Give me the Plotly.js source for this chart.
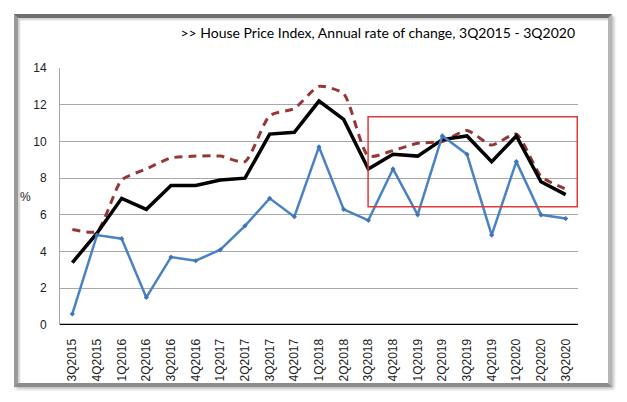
<!DOCTYPE html>
<html>
<head>
<meta charset="utf-8">
<script src="https://cdn.plot.ly/plotly-3.0.1.min.js"></script>
<style>
  html, body { margin: 0; padding: 0; background: #ffffff; }
  #wrap { position: relative; width: 627px; height: 402px; overflow: hidden; background: #fff; }
  #frame {
    position: absolute; left: 14px; top: 14px; width: 590px; height: 365px;
    border-top: 4px solid #6e6e6e; border-left: 4px solid #9a9a9a;
    border-right: 4px solid #b5b5b5; border-bottom: 4px solid #8c8c8c;
    box-shadow: inset 2px 2px 2px #d0d0d0, 2px 2px 3px #bdbdbd;
    background: #fff;
  }
  #chart { position: absolute; left: 0; top: 0; width: 627px; height: 402px; }
</style>
</head>
<body>
<div id="wrap">
  <div id="frame"></div>
  <div id="chart"></div>
</div>
<script>
const categories = ["3Q2015","4Q2015","1Q2016","2Q2016","3Q2016","4Q2016","1Q2017","2Q2017","3Q2017","4Q2017","1Q2018","2Q2018","3Q2018","4Q2018","1Q2019","2Q2019","3Q2019","4Q2019","1Q2020","2Q2020","3Q2020"];
const blackSeries = [3.4, 5.0, 6.9, 6.3, 7.6, 7.6, 7.9, 8.0, 10.4, 10.5, 12.2, 11.2, 8.5, 9.3, 9.2, 10.1, 10.3, 8.9, 10.3, 7.8, 7.1];
const blueSeries  = [0.6, 4.9, 4.7, 1.5, 3.7, 3.5, 4.1, 5.4, 6.9, 5.9, 9.7, 6.3, 5.7, 8.5, 6.0, 10.3, 9.3, 4.9, 8.9, 6.0, 5.8];
const dashSeries  = [5.2, 5.1, 7.9, 8.5, 9.1, 9.2, 9.2, 8.9, 11.4, 11.8, 13.0, 12.6, 9.2, 9.5, 9.9, 10.0, 10.6, 9.8, 10.4, 8.1, 7.4];
const yTicks = [0, 2, 4, 6, 8, 10, 12, 14];
const titleText = ">> House Price Index, Annual rate of change, 3Q2015 - 3Q2020";
const yLabel = "%";
const highlightFrom = "3Q2018";

const traces = [
  { x: categories, y: dashSeries, type: "scatter", mode: "lines",
    line: { color: "#953735", width: 3, dash: "8px,6px", shape: "spline", smoothing: 0.6 }, hoverinfo: "skip" },
  { x: categories, y: blackSeries, type: "scatter", mode: "lines",
    line: { color: "#000000", width: 3.5 }, hoverinfo: "skip" },
  { x: categories, y: blueSeries, type: "scatter", mode: "lines+markers",
    line: { color: "#4a82c4", width: 2.5 },
    marker: { symbol: "diamond", size: 4, color: "#3f75b5" }, hoverinfo: "skip" }
];

const startIdx = categories.indexOf(highlightFrom);

const layout = {
  width: 627, height: 402,
  paper_bgcolor: "rgba(0,0,0,0)", plot_bgcolor: "rgba(0,0,0,0)",
  margin: { l: 60, r: 49, t: 68, b: 77 },
  showlegend: false,
  font: { family: "Liberation Sans, Arial, sans-serif", color: "#000" },
  title: { text: titleText, font: { family: "Lato, Open Sans, sans-serif", size: 14, color: "#000" },
           xref: "container", yref: "container", x: 575/627, xanchor: "right", y: 1 - 33/402, yanchor: "middle" },
  xaxis: {
    type: "category", tickangle: -90, showgrid: false, zeroline: false,
    showline: false, ticks: "outside", ticklen: 8, tickcolor: "rgba(0,0,0,0)",
    tickfont: { size: 12, family: "Liberation Sans, Arial, sans-serif", color: "#222" },
    range: [-0.5, categories.length - 0.5], fixedrange: true
  },
  yaxis: {
    range: [0, 14], tickvals: yTicks, showgrid: true, gridcolor: "#a8a8a8", gridwidth: 1,
    zeroline: false, showline: true, linecolor: "#a8a8a8", linewidth: 1,
    ticks: "outside", ticklen: 10, tickcolor: "rgba(0,0,0,0)",
    tickfont: { size: 12, family: "Liberation Sans, Arial, sans-serif", color: "#222" },
    fixedrange: true
  },
  annotations: [
    { text: yLabel, xref: "paper", yref: "paper", x: (25 - 60) / 518, y: (325 - 197) / 257,
      xanchor: "center", yanchor: "middle", showarrow: false,
      font: { size: 12, family: "Liberation Sans, Arial, sans-serif", color: "#222" } }
  ],
  shapes: [
    { type: "line", xref: "paper", yref: "y", x0: 0, x1: 1, y0: 0, y1: 0,
      line: { color: "#000", width: 2.5 } },
    { type: "rect", xref: "x", yref: "y", x0: startIdx - 0.01, x1: categories.length - 0.53,
      y0: 6.44, y1: 11.35, line: { color: "#e03a3a", width: 1.5 }, fillcolor: "rgba(0,0,0,0)" }
  ]
};

Plotly.newPlot("chart", traces, layout, { staticPlot: true, displayModeBar: false });
</script>
</body>
</html>
